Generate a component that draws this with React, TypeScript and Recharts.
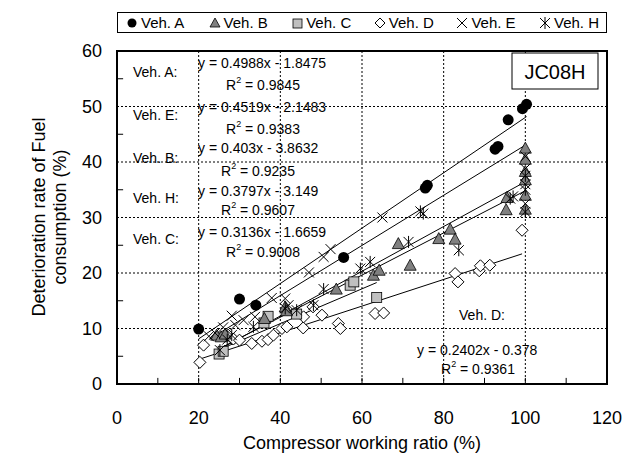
import React from 'react';
import {
  ScatterChart,
  Scatter,
  XAxis,
  YAxis,
  CartesianGrid,
  ReferenceLine,
  ReferenceArea
} from 'recharts';

// [compressor working ratio %, deterioration rate %]
const vehA = [
  [20, 9.9], [30, 15.3], [34, 14.2], [55.5, 22.8], [75.5, 35.3], [76, 35.8],
  [92.6, 42.3], [93.3, 42.8], [95.8, 47.6], [99.3, 49.6], [100.3, 50.4]
];
const vehB = [
  [24.4, 8.8], [25.5, 8.5], [26.5, 9.0], [36.1, 11.8], [41.2, 13.9], [41.5, 13.2],
  [53.7, 17.1], [62.8, 19.6], [64.2, 20.5], [68.9, 25.3], [71.8, 21.4], [78.8, 26.2],
  [81.6, 27.9], [82.8, 26.1], [95.3, 31.4], [95.5, 33.6], [100, 31.5], [100, 34.0],
  [100, 36.8], [100, 38.3], [100, 40.5], [100, 42.5]
];
const vehC = [
  [25, 5.4], [26, 5.9], [36, 11.0], [37, 12.2], [44, 12.6], [57.1, 17.8], [58, 18.4], [63.6, 15.6]
];
const vehD = [
  [20.3, 3.9], [21.2, 7.0], [27.2, 8.8], [28.5, 8.1], [30, 7.9], [33, 7.3], [35.5, 7.7],
  [37, 8.0], [38.3, 8.8], [40.4, 10.0], [41.6, 10.3], [45.6, 10.1], [45.7, 12.1], [48, 13.9],
  [50.2, 12.4], [54.2, 10.9], [54.7, 10.0], [63.2, 12.7], [65.3, 12.8], [82.8, 19.9],
  [83.5, 18.4], [88.7, 20.4], [89, 21.3], [91.3, 21.4], [99.2, 27.7]
];
const vehE = [
  [22.5, 8.6], [24, 9.2], [26, 10.2], [28.1, 12.3], [29, 10.6], [31, 11.5], [33.8, 12.1],
  [37.9, 15.5], [41.2, 15.4], [42, 14.2], [47, 20.1], [50.6, 22.9], [52.3, 24.3], [65, 30.0],
  [100, 32.5], [100, 36.0], [100, 38.8], [100, 41.0]
];
const vehH = [
  [25.2, 6.1], [27, 8.0], [28.1, 8.8], [33.4, 10.3], [41.2, 13.6], [44, 13.3], [48.1, 14.2],
  [50.6, 17.1], [59.6, 20.8], [62, 22.0], [71.4, 25.6], [74.3, 31.1], [75, 30.7], [83.7, 24.1],
  [96.3, 33.4], [97, 33.8], [100, 31.0], [100, 35.0], [100, 37.5]
];

// trend line equations printed on the chart
const slopes = { A: 0.4988, E: 0.4519, B: 0.403, H: 0.3797, C: 0.3136, D: 0.2402 };
const intercepts = { A: -1.8475, E: -2.1483, B: -3.8632, H: -3.149, C: -1.6659, D: -0.378 };
const r2 = { A: '0.9845', E: '0.9383', B: '0.9235', H: '0.9607', C: '0.9008', D: '0.9361' };

const xTicks = [0, 20, 40, 60, 80, 100, 120];
const yTicks = [0, 10, 20, 30, 40, 50, 60];
const xMinorTicks = [10, 20, 30, 40, 50, 60, 70, 80, 90, 100, 110];
const yMinorTicks = [5, 15, 25, 35, 45, 55];

const toPts = (arr: number[][]) => arr.map(([x, y]) => ({ x, y }));

const series: Record<string, number[][]> = { A: vehA, B: vehB, C: vehC, D: vehD, E: vehE, H: vehH };

const trend = (k: string) => {
  const xs = series[k].map(p => p[0]);
  const x0 = Math.min(...xs);
  const x1 = Math.max(...xs);
  const a = (slopes as any)[k];
  const b = (intercepts as any)[k];
  return [{ x: x0, y: a * x0 + b }, { x: x1, y: a * x1 + b }];
};

const Dot = (p: any) => <circle cx={p.cx} cy={p.cy} r={5.5} fill="#000" />;
const Tri = (p: any) => (
  <polygon
    points={`${p.cx},${p.cy - 6} ${p.cx - 6},${p.cy + 5} ${p.cx + 6},${p.cy + 5}`}
    fill="#808080" stroke="#000" strokeWidth={0.8}
  />
);
const Sq = (p: any) => (
  <rect x={p.cx - 5} y={p.cy - 5} width={10} height={10} fill="#c0c0c0" stroke="#000" strokeWidth={0.8} />
);
const Dia = (p: any) => (
  <polygon
    points={`${p.cx},${p.cy - 6} ${p.cx + 6},${p.cy} ${p.cx},${p.cy + 6} ${p.cx - 6},${p.cy}`}
    fill="#fff" stroke="#000" strokeWidth={1}
  />
);
const Cross = (p: any) => (
  <path d={`M${p.cx - 5},${p.cy - 5}L${p.cx + 5},${p.cy + 5}M${p.cx + 5},${p.cy - 5}L${p.cx - 5},${p.cy + 5}`} stroke="#000" strokeWidth={1} />
);
const Star = (p: any) => (
  <path
    d={`M${p.cx - 5},${p.cy - 5}L${p.cx + 5},${p.cy + 5}M${p.cx + 5},${p.cy - 5}L${p.cx - 5},${p.cy + 5}M${p.cx},${p.cy - 6}L${p.cx},${p.cy + 6}`}
    stroke="#000" strokeWidth={1}
  />
);

const font = 'Arial, "Liberation Sans", sans-serif';

const legendItems = [
  { name: 'Veh. A', icon: <circle cx={6} cy={7} r={4.5} fill="#000" /> },
  { name: 'Veh. B', icon: <polygon points="6,2 1,11 11,11" fill="#808080" stroke="#000" strokeWidth={0.8} /> },
  { name: 'Veh. C', icon: <rect x={2} y={3} width={9} height={9} fill="#c0c0c0" stroke="#000" strokeWidth={0.8} /> },
  { name: 'Veh. D', icon: <polygon points="6,2 11,7 6,12 1,7" fill="#fff" stroke="#000" strokeWidth={1} /> },
  { name: 'Veh. E', icon: <path d="M1,2L11,12M11,2L1,12" stroke="#000" strokeWidth={1} /> },
  { name: 'Veh. H', icon: <path d="M1,2L11,12M11,2L1,12M6,1L6,13" stroke="#000" strokeWidth={1} /> }
];

// annotation rows: label, equation and R² lines
const notes = [
  { k: 'A', ly: 72, ey: 63, ry: 85, rx: 226 },
  { k: 'E', ly: 115, ey: 107, ry: 129, rx: 226 },
  { k: 'B', ly: 158, ey: 148, ry: 171, rx: 221 },
  { k: 'H', ly: 198, ey: 191, ry: 210, rx: 221 },
  { k: 'C', ly: 239, ey: 232, ry: 252, rx: 226 }
];

const eqText = (k: string) => {
  const b = (intercepts as any)[k];
  return `y = ${(slopes as any)[k]}x - ${Math.abs(b)}`;
};

const R2 = ({ x, y, k }: any) => (
  <text x={x} y={y} dominantBaseline="central" fontSize={14} fontFamily={font}>
    R<tspan dy={-5} fontSize={9}>2</tspan><tspan dy={5}> = {r2[k as keyof typeof r2]}</tspan>
  </text>
);

export default function App() {
  return (
    <div style={{ position: 'absolute', left: 0, top: 0, width: 622, height: 455, background: '#fff', fontFamily: font }}>
      <ScatterChart width={622} height={455} margin={{ top: 51, right: 15, bottom: 0, left: 0 }}>
        <CartesianGrid stroke="#000" strokeDasharray="2 2" strokeWidth={1} />
        <XAxis
          type="number"
          dataKey="x"
          domain={[0, 120]}
          ticks={xTicks}
          height={71}
          tickSize={0}
          tickMargin={27}
          axisLine={false}
          tick={{ fontSize: 18, fill: '#000', fontFamily: font }}
          label={{ value: 'Compressor working ratio (%)', position: 'insideBottom', offset: 6, fontSize: 18, fill: '#000', fontFamily: font }}
        />
        <YAxis
          type="number"
          dataKey="y"
          domain={[0, 60]}
          ticks={yTicks}
          width={117}
          tickSize={0}
          tickMargin={15}
          axisLine={false}
          tick={{ fontSize: 18, fill: '#000', fontFamily: font }}
        />
        {xMinorTicks.map(t => (
          <ReferenceLine key={'xt' + t} segment={[{ x: t, y: 0 }, { x: t, y: 1.1 }]} stroke="#000" />
        ))}
        {yMinorTicks.map(t => (
          <ReferenceLine key={'yt' + t} segment={[{ x: 0, y: t }, { x: 1.5, y: t }]} stroke="#000" />
        ))}
        {['A', 'E', 'B', 'H', 'C', 'D'].map(k => (
          <ReferenceLine key={'tr' + k} segment={trend(k)} stroke="#000" strokeWidth={1} ifOverflow="visible" />
        ))}
        <Scatter data={toPts(vehD)} shape={Dia} isAnimationActive={false} />
        <Scatter data={toPts(vehC)} shape={Sq} isAnimationActive={false} />
        <Scatter data={toPts(vehB)} shape={Tri} isAnimationActive={false} />
        <Scatter data={toPts(vehH)} shape={Star} isAnimationActive={false} />
        <Scatter data={toPts(vehE)} shape={Cross} isAnimationActive={false} />
        <Scatter data={toPts(vehA)} shape={Dot} isAnimationActive={false} />
        <ReferenceArea x1={0} x2={120} y1={0} y2={60} fill="none" stroke="#000" strokeWidth={2} ifOverflow="visible" />
      </ScatterChart>

      {/* legend */}
      <div
        style={{
          position: 'absolute', left: 117, top: 12, width: 490, height: 21, boxSizing: 'border-box',
          border: '1px solid #000', fontSize: 15, color: '#000'
        }}
      >
        {legendItems.map((it, i) => (
          <span
            key={it.name}
            style={{ position: 'absolute', left: 8 + i * 82.6, top: 0, height: 19, display: 'flex', alignItems: 'center', gap: 3, whiteSpace: 'nowrap' }}
          >
            <svg width={12} height={14}>{it.icon}</svg>
            {it.name}
          </span>
        ))}
      </div>

      {/* annotations */}
      <svg width={622} height={455} style={{ position: 'absolute', left: 0, top: 0, pointerEvents: 'none' }}>
        {notes.map(n => (
          <g key={n.k}>
            <text x={133} y={n.ly} dominantBaseline="central" fontSize={14} fontFamily={font}>{`Veh. ${n.k}:`}</text>
            <text x={198} y={n.ey} dominantBaseline="central" fontSize={14} fontFamily={font}>{eqText(n.k)}</text>
            <R2 x={n.rx} y={n.ry} k={n.k} />
          </g>
        ))}
        <text x={482} y={315} textAnchor="middle" dominantBaseline="central" fontSize={14} fontFamily={font}>Veh. D:</text>
        <text x={417} y={350} dominantBaseline="central" fontSize={14} fontFamily={font}>{eqText('D')}</text>
        <R2 x={441} y={369} k="D" />
        <rect x={512} y={53} width={86} height={36} fill="#fff" stroke="#000" strokeWidth={1} />
        <text x={555} y={72} textAnchor="middle" dominantBaseline="central" fontSize={20} fontFamily={font}>JC08H</text>
        <g transform="translate(39,217) rotate(-90)">
          <text x={0} y={0} textAnchor="middle" dominantBaseline="central" fontSize={18} fontFamily={font}>Deterioration rate of Fuel</text>
          <text x={0} y={21} textAnchor="middle" dominantBaseline="central" fontSize={18} fontFamily={font}>consumption (%)</text>
        </g>
      </svg>
    </div>
  );
}
